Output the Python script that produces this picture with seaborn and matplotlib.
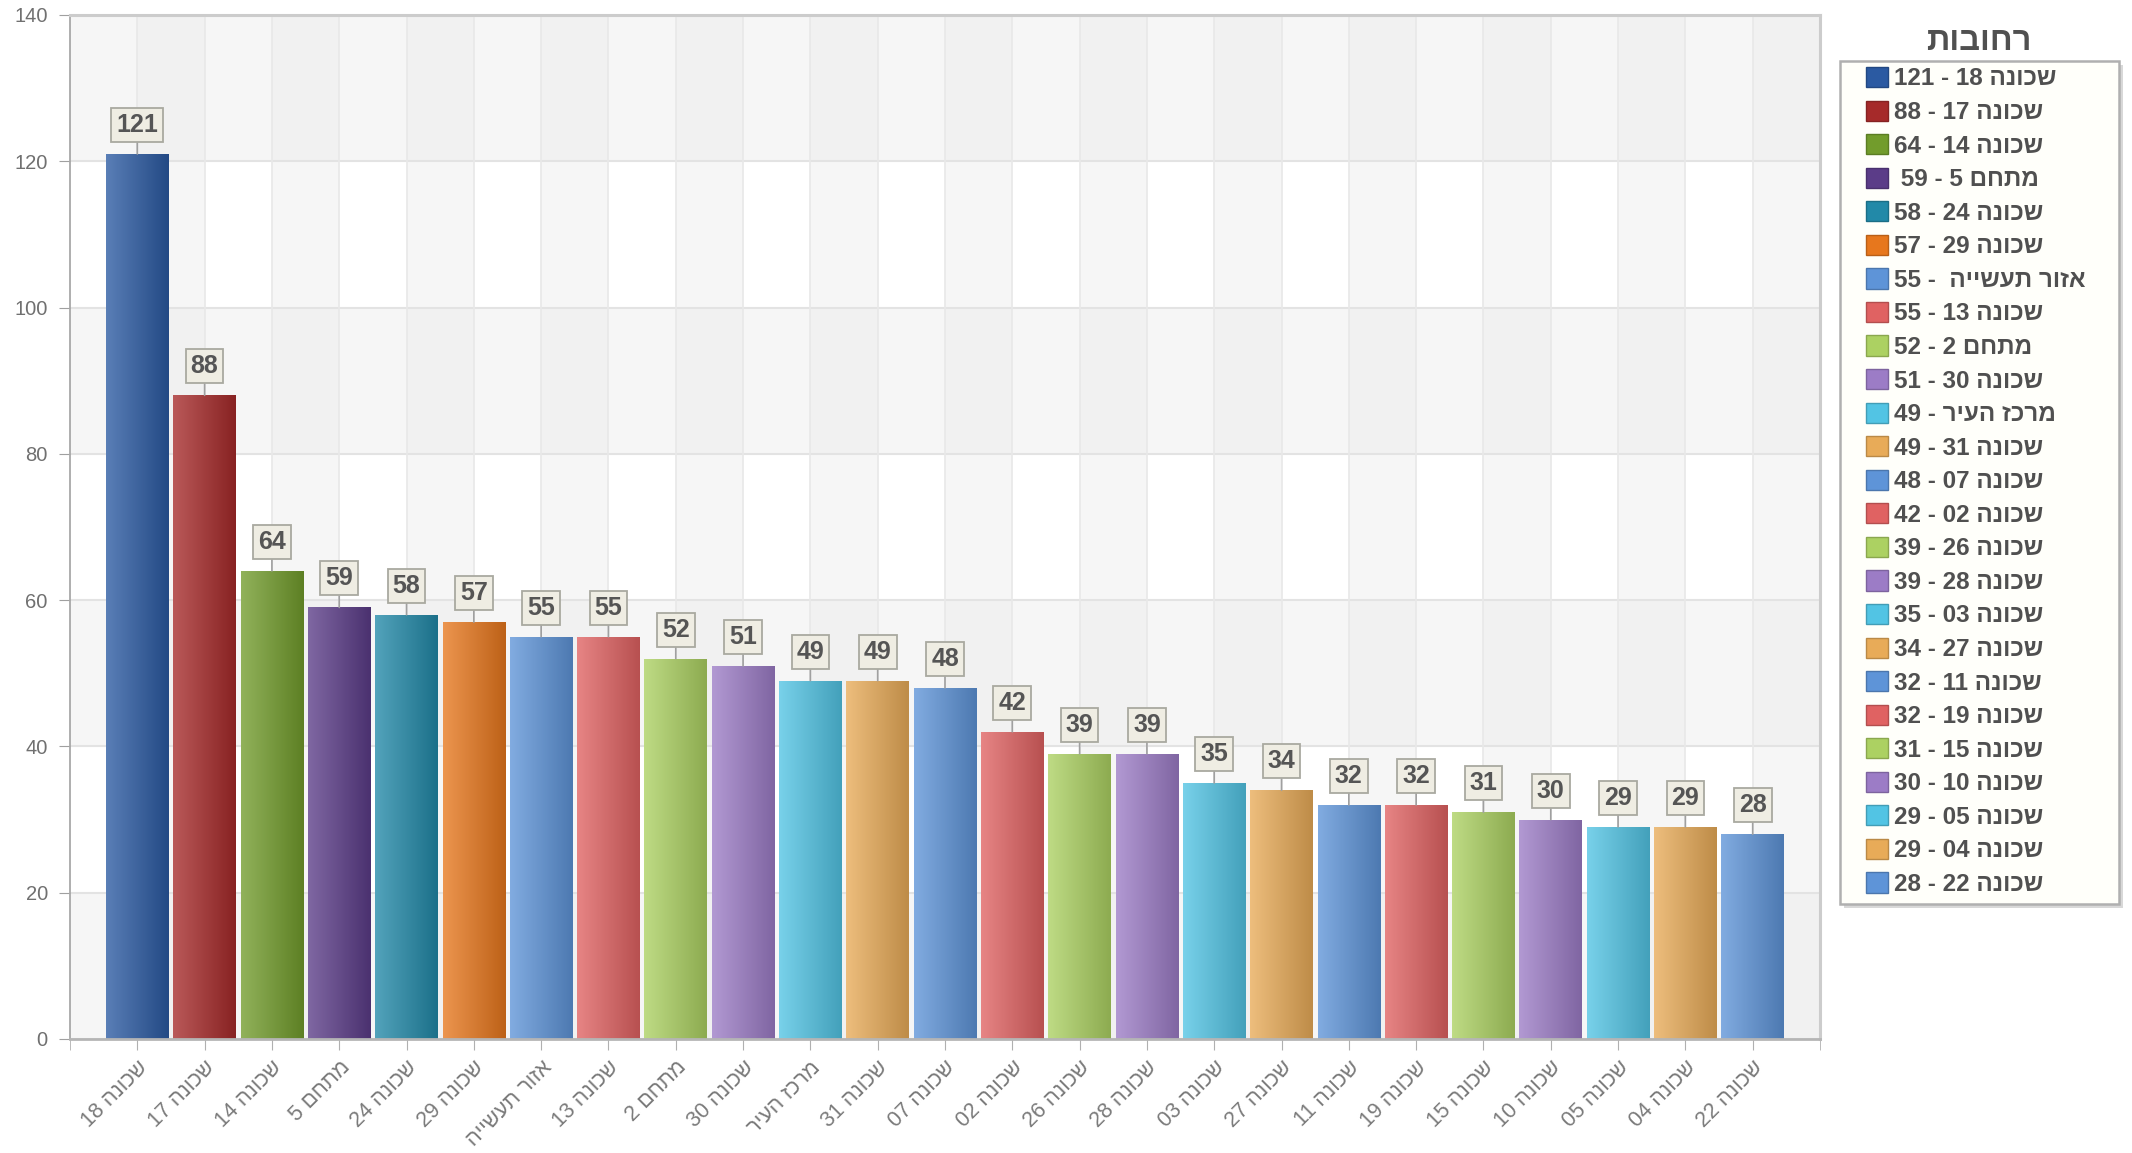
import re
import numpy as np
import pandas as pd
import matplotlib
matplotlib.use("Agg")
import matplotlib.pyplot as plt
import matplotlib.colors as mcolors
from matplotlib.patches import Patch, Rectangle
import seaborn as sns

# data
names = ["שכונה 18", "שכונה 17", "שכונה 14", "מתחם 5", "שכונה 24", "שכונה 29",
         "אזור תעשייה", "שכונה 13", "מתחם 2", "שכונה 30", "מרכז העיר", "שכונה 31",
         "שכונה 07", "שכונה 02", "שכונה 26", "שכונה 28", "שכונה 03", "שכונה 27",
         "שכונה 11", "שכונה 19", "שכונה 15", "שכונה 10", "שכונה 05", "שכונה 04",
         "שכונה 22"]
counts = [121, 88, 64, 59, 58, 57, 55, 55, 52, 51, 49, 49, 48, 42, 39, 39, 35,
          34, 32, 32, 31, 30, 29, 29, 28]
legend_labels = ["שכונה 18 - 121", "שכונה 17 - 88", "שכונה 14 - 64", "מתחם 5 - 59 ",
                 "שכונה 24 - 58", "שכונה 29 - 57", "אזור תעשייה  - 55", "שכונה 13 - 55",
                 "מתחם 2 - 52", "שכונה 30 - 51", "מרכז העיר - 49", "שכונה 31 - 49",
                 "שכונה 07 - 48", "שכונה 02 - 42", "שכונה 26 - 39", "שכונה 28 - 39",
                 "שכונה 03 - 35", "שכונה 27 - 34", "שכונה 11 - 32", "שכונה 19 - 32",
                 "שכונה 15 - 31", "שכונה 10 - 30", "שכונה 05 - 29", "שכונה 04 - 29",
                 "שכונה 22 - 28"]
legend_title = "רחובות"
y_ticks = [0, 20, 40, 60, 80, 100, 120, 140]

dark6 = ["#2b5aa2", "#a62a2a", "#729c2c", "#5b3c88", "#2289a8", "#e7771d"]
light6 = ["#5e94d8", "#e06262", "#acd162", "#9c7cc6", "#52c4e4", "#e8ab58"]
bar_colors = dark6 + light6 * 3 + light6[:1]


def visual(s):
    # matplotlib has no bidi support: put RTL text in visual order
    r = s[::-1]
    return re.sub(r"\d+", lambda m: m.group(0)[::-1], r)


def blend(c, other, t):
    a = np.array(mcolors.to_rgb(c))
    b = np.array(mcolors.to_rgb(other))
    return a * (1 - t) + b * t


df = pd.DataFrame({"name": names, "count": counts})

sns.set_style("white")
plt.rcParams["font.family"] = ["Liberation Sans", "DejaVu Sans"]

W, H = 2132, 1153
fig = plt.figure(figsize=(W / 100, H / 100), dpi=100)
ax = fig.add_axes([70 / W, 1 - 1039 / H, 1750 / W, 1024 / H])

n = len(df)
# checkered background
for k in range(0, 140, 40):
    ax.axhspan(k, k + 20, color="#ececec", alpha=0.45, lw=0, zorder=0)
for i in range(0, n, 2):
    ax.axvspan(i, i + 1, color="#ececec", alpha=0.45, lw=0, zorder=0)
for y in y_ticks:
    ax.axhline(y, color="#e3e3e3", lw=1.5, zorder=0.5)
for i in range(n):
    ax.axvline(i, color="#e8e8e8", lw=1.2, zorder=0.5)

sns.barplot(data=df, x="name", y="count", hue="name", palette=bar_colors,
            width=0.93, legend=False, saturation=1, ax=ax, zorder=2,
            edgecolor="#ffffff00")

# horizontal gradient on each bar, clipped to the bar patch
bars = [p for cont in ax.containers for p in cont]
for patch, c in zip(bars, bar_colors):
    x0, y0 = patch.get_x(), patch.get_y()
    w, h = patch.get_width(), patch.get_height()
    t = np.linspace(0, 1, 64)[:, None]
    grad = blend(c, "white", 0.22)[None, :] * (1 - t) + blend(c, "black", 0.18)[None, :] * t
    im = ax.imshow(grad[None, :, :], extent=(x0, x0 + w, y0, y0 + h),
                   aspect="auto", zorder=2.5, interpolation="bilinear")
    im.set_clip_path(patch)

for i, v in enumerate(counts):
    ax.annotate(str(v), xy=(i, v), xytext=(0, 17), textcoords="offset pixels",
                ha="center", va="bottom", fontsize=18, fontweight="bold",
                color="#555555", zorder=4,
                bbox=dict(boxstyle="square,pad=0.2", fc="#efede3", ec="#a9a9a0", lw=1.3),
                arrowprops=dict(arrowstyle="-", color="#a0a0a0", lw=1.2,
                                shrinkA=0, shrinkB=0))

ax.set_xlim(-1, n)
ax.set_ylim(0, 140)
ax.set_yticks(y_ticks)
ax.set_xticks(range(n))
ax.set_xticklabels([visual(s) for s in df["name"]], rotation=45, ha="right",
                   rotation_mode="anchor", fontsize=15.5, color="#7a7a7a")
ax.set_xticks([-1, n], minor=True)
ax.tick_params(axis="y", labelsize=14.5, labelcolor="#707070", length=8,
               color="#a0a0a0", left=True, direction="out", pad=8)
ax.tick_params(axis="x", which="both", length=8, color="#b0b0b0", bottom=True,
               direction="out", pad=5)
ax.set_xlabel("")
ax.set_ylabel("")

for side, col, lw in [("left", "#a8a8a8", 1.3), ("bottom", "#b5b5b5", 2.0),
                      ("top", "#cccccc", 2.2), ("right", "#cccccc", 2.2)]:
    ax.spines[side].set_visible(True)
    ax.spines[side].set_color(col)
    ax.spines[side].set_linewidth(lw)

# legend box drawn separately so it can match the reference size
fig.patches.append(Rectangle((1844 / W, 1 - 908 / H), 279 / W, 843 / H,
                             transform=fig.transFigure, fc="#d8d8d8", ec="none", zorder=-2))
fig.patches.append(Rectangle((1840 / W, 1 - 904 / H), 279 / W, 843 / H,
                             transform=fig.transFigure, fc="#fffffa", ec="#b0b0b0",
                             lw=1.8, zorder=-1))
fig.text(1979 / W, 1 - 41 / H, visual(legend_title), ha="center", va="center",
         fontsize=23.5, fontweight="bold", color="#505050")

handles = [Patch(facecolor=c, edgecolor=blend(c, "black", 0.2)) for c in bar_colors]
labels = [visual(s) for s in legend_labels]
leg = fig.legend(handles, labels, loc="upper left",
                 bbox_to_anchor=(1866 / W, 1 - 67 / H),
                 frameon=False, borderpad=0, borderaxespad=0,
                 handlelength=0.9, handleheight=0.9, handletextpad=0.25,
                 labelspacing=0.415, prop=dict(weight="bold", size=17.5),
                 labelcolor="#505050")
leg.set_zorder(5)

fig.savefig("out.png", dpi=100)
